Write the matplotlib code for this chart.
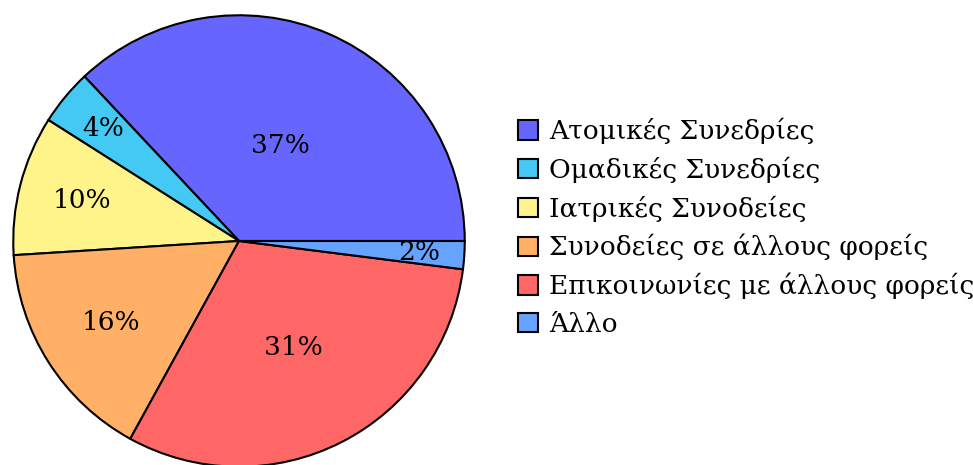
import matplotlib.pyplot as plt
from matplotlib.patches import Patch
import numpy as np

plt.rcParams['font.family'] = ['DejaVu Serif']

# Chart data
categories = ["Ατομικές Συνεδρίες", "Ομαδικές Συνεδρίες", "Ιατρικές Συνοδείες",
              "Συνοδείες σε άλλους φορείς", "Επικοινωνίες με άλλους φορείς", "Άλλο"]
shares = [37, 4, 10, 16, 31, 2]
colors = ["#6666ff", "#44c8f4", "#fff48a", "#ffb066", "#ff6666", "#66a3ff"]

# label distance from centre (fraction of radius), per slice
label_r = [0.46, 0.78, 0.72, 0.67, 0.53, 0.80]

fig = plt.figure(figsize=(9.73, 4.65), dpi=100)
W, H = 973, 465
cx, cy, R = 239, 224, 228
ax = fig.add_axes([(cx - R) / W, (cy - R) / H, 2 * R / W, 2 * R / H])

wedges, _ = ax.pie(shares, colors=colors, startangle=0, counterclock=True, radius=1,
                   wedgeprops=dict(edgecolor="black", linewidth=1.5))

total = sum(shares)
start = 0
for val, r in zip(shares, label_r):
    mid = np.deg2rad(start + 360 * val / total / 2)
    ax.text(r * np.cos(mid), r * np.sin(mid), f"{val}%", ha="center", va="center",
            fontsize=19)
    start += 360 * val / total

ax.set_xlim(-1.01, 1.01)
ax.set_ylim(-1.01, 1.01)
ax.set_aspect("equal")
ax.axis("off")

handles = [Patch(facecolor=c, edgecolor="black", linewidth=1.5) for c in colors]
fig.legend(handles, categories, loc="upper left", bbox_to_anchor=(518 / W, 1 - 118 / H),
           frameon=False, fontsize=19, handlelength=0.75, handleheight=0.75,
           handletextpad=0.42, labelspacing=0.47, borderpad=0, borderaxespad=0)

fig.savefig("out.png", dpi=100)
